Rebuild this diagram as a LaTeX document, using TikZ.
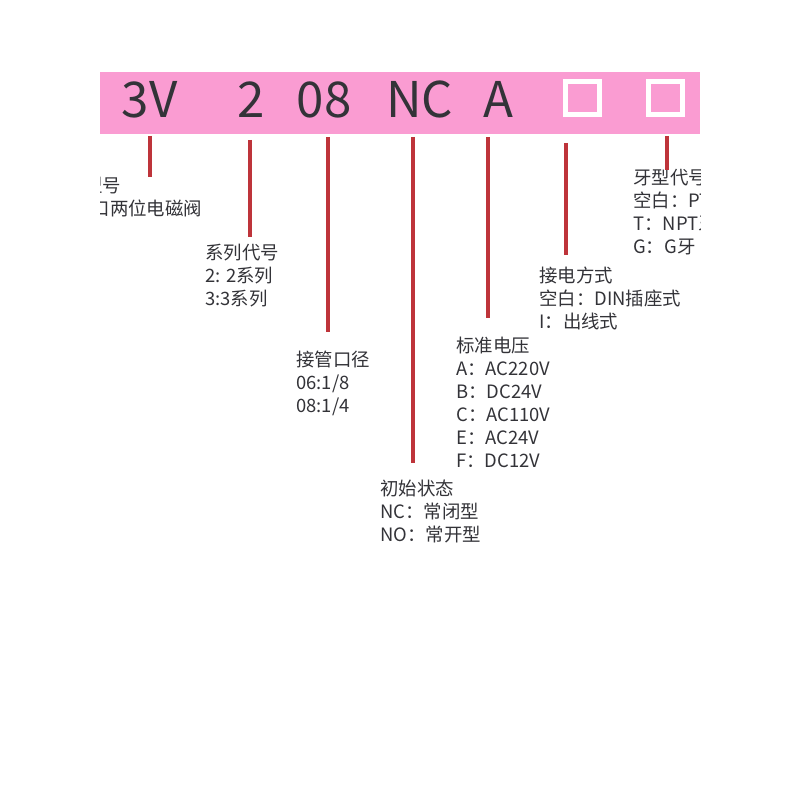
\documentclass[tikz,border=0pt]{standalone}
\usepackage{fontspec}
\setmainfont{Noto Sans CJK SC}
\usepackage{xcolor}
\usetikzlibrary{positioning}
\definecolor{barpink}{RGB}{250,156,210}
\definecolor{leadred}{RGB}{190,52,58}
\definecolor{txtgray}{RGB}{51,51,56}
\tikzset{
  code/.style  = {anchor=base, inner sep=0pt, text=txtgray,
                  font=\fontsize{35pt}{40pt}\selectfont},
  slot/.style  = {draw=white, line width=3.5pt, minimum width=0.85cm,
                  minimum height=0.825cm, inner sep=0pt},
  desc/.style  = {anchor=north west, inner sep=0pt, align=left, text=txtgray,
                  font=\fontsize{13.1pt}{16.3pt}\selectfont},
  lead/.style  = {draw=leadred, line width=2.6pt},
}
\begin{document}
\begin{tikzpicture}[x=0.025cm, y=-0.025cm]
    \useasboundingbox (0,0) rectangle (800,800);
    \clip (100,0) rectangle (700,800);

    %% code bar
    \node[fill=barpink, minimum width=15cm, minimum height=1.55cm, inner sep=0pt]
         (bar) at (400,103) {};
    \node[code] (c3v)    at (149.5,118) {3V};
    \node[code] (cser)   at (251.5,118) {2};
    \node[code] (cport)  at (324.0,118) {08};
    \node[code] (cstate) at (419.5,118) {NC};
    \node[code] (cvolt)  at (498.5,118) {A};
    \node[slot] (cwire)   at (582.5,98) {};
    \node[slot] (cthread) at (665.5,98) {};

    %% descriptions
    \node[desc] (dmodel)  at (47,177)  {产品型号\\3V:三口两位电磁阀};
    \node[desc] (dseries) at (205,244) {系列代号\\2: 2系列\\3:3系列};
    \node[desc] (dport)   at (296,351) {接管口径\\06:1/8\\08:1/4};
    \node[desc] (dstate)  at (380,480) {初始状态\\NC：常闭型\\NO：常开型};
    \node[desc] (dvolt)   at (456,337) {标准电压\\A：AC220V\\B：DC24V\\C：AC110V\\E：AC24V\\F：DC12V};
    \node[desc] (dwire)   at (539,267) {接电方式\\空白：DIN插座式\\I：出线式};
    \node[desc] (dthread) at (633,169) {牙型代号\\空白：PT牙\\T：NPT牙\\G：G牙};

    %% leader lines
    \foreach \n/\x/\a/\b in {model/150/136/177, series/250/140/237, port/328/137/332,
                             state/413/137/463, volt/488/137/318, wire/566/143/255,
                             thread/667/136/170} {
      \coordinate (s\n) at (\x,\a);
      \coordinate (e\n) at (\x,\b);
      \draw[lead] (s\n) -- (e\n);
    }

  \end{tikzpicture}
\end{document}
